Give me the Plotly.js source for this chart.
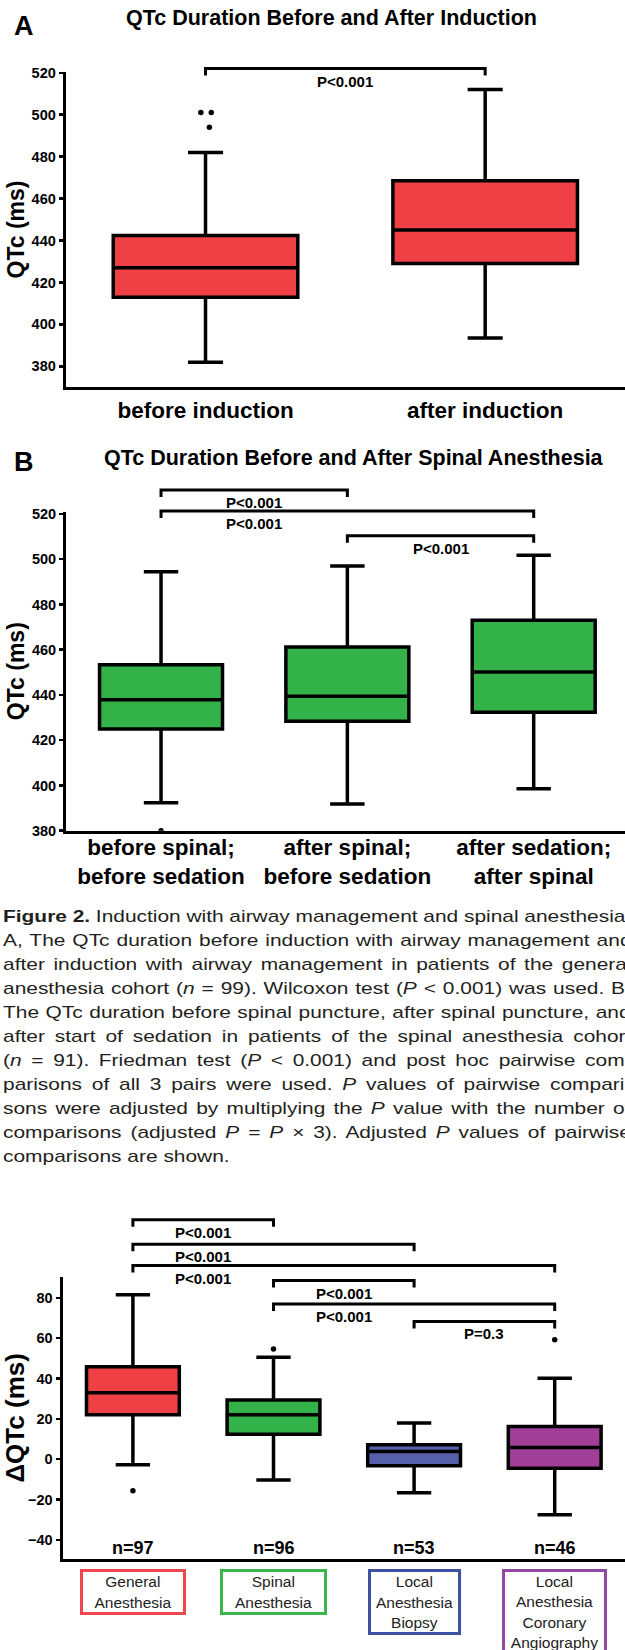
<!DOCTYPE html>
<html>
<head>
<meta charset="utf-8">
<script src="https://cdn.plot.ly/plotly-3.0.1.min.js"></script>
<style>
html,body{margin:0;padding:0;background:#fff;overflow:hidden;width:625px;height:1650px;}
#chart{position:absolute;left:0;top:0;width:625px;height:1650px;}
#caption{position:absolute;left:3px;top:905px;transform-origin:0 0;transform:scaleX(1.23);
  font-family:'Liberation Sans',Arial,sans-serif;font-size:17px;line-height:24px;color:#231f20;white-space:nowrap;}
#caption .ln{display:block;height:24px;}
#caption .ln span{display:inline-block;white-space:nowrap;}
</style>
</head>
<body>
<div id="chart"></div>
<div id="caption"></div>
<script>
// ---------------- data ----------------
// Panel A: QTc before / after induction
const catsA = ['before induction', 'after induction'];
const lowA  = [382, 393.5];
const q1A   = [413, 429];
const medA  = [427, 445];
const q3A   = [442.4, 468.5];
const highA = [482, 512];
const outA  = [[501, 501, 494], []];

// Panel B: QTc before / after spinal anesthesia
const catsB = ['before spinal;<br>before sedation', 'after spinal;<br>before sedation', 'after sedation;<br>after spinal'];
const lowB  = [392.3, 391.8, 398.5];
const q1B   = [424.9, 428.4, 432.4];
const medB  = [437.9, 439.4, 450.1];
const q3B   = [453.4, 461.2, 473.0];
const highB = [494.5, 497.0, 501.8];
const outB  = [[380], [], []];

// Panel C: delta QTc by anesthesia type
const catsC = ['General<br>Anesthesia', 'Spinal<br>Anesthesia', 'Local<br>Anesthesia<br>Biopsy', 'Local<br>Anesthesia<br>Coronary<br>Angiography'];
const nC    = [97, 96, 53, 46];
const lowC  = [-2.8, -10.3, -16.6, -27.6];
const q1C   = [22.0, 12.4, -3.3, -4.5];
const medC  = [33.0, 22.0, 3.8, 5.8];
const q3C   = [45.9, 29.4, 7.1, 16.2];
const highC = [81.5, 50.6, 17.9, 40.2];
const outC  = [[-15.6], [54.7], [], [59.2]];

// pairwise comparisons: [from, to, label]
const compA = [[0, 1, 'P<0.001']];
const compB = [[0, 1, 'P<0.001'], [0, 2, 'P<0.001'], [1, 2, 'P<0.001']];
const compC = [[0, 1, 'P<0.001'], [0, 2, 'P<0.001'], [0, 3, 'P<0.001'], [1, 2, 'P<0.001'], [1, 3, 'P<0.001'], [2, 3, 'P=0.3']];
// bracket heights (data units)
const levelA = [522];
const levelB = [530.6, 521.3, 510.4];
const levelC = [118.7, 106.6, 96.0, 88.6, 76.9, 68.3];

const ticksA = [380, 400, 420, 440, 460, 480, 500, 520];
const ticksB = [380, 400, 420, 440, 460, 480, 500, 520];
const ticksC = [-40, -20, 0, 20, 40, 60, 80];

const captionLines = [
 '<b>Figure 2.</b> Induction with airway management and spinal anesthesia.',
 'A, The QTc duration before induction with airway management and',
 'after induction with airway management in patients of the general',
 'anesthesia cohort (<i>n</i> = 99). Wilcoxon test (<i>P</i> &lt; 0.001) was used. B,',
 'The QTc duration before spinal puncture, after spinal puncture, and',
 'after start of sedation in patients of the spinal anesthesia cohort',
 '(<i>n</i> = 91). Friedman test (<i>P</i> &lt; 0.001) and post hoc pairwise com-',
 'parisons of all 3 pairs were used. <i>P</i> values of pairwise compari-',
 'sons were adjusted by multiplying the <i>P</i> value with the number of',
 'comparisons (adjusted <i>P</i> = <i>P</i> \u00d7 3). Adjusted <i>P</i> values of pairwise',
 'comparisons are shown.'
];

// ---------------- styling / layout ----------------
const FONT = 'Liberation Sans, Arial, Helvetica, sans-serif';
const W = 625, H = 1650;
const RED = '#EE4045', GREEN = '#34B24A', BLUE = '#5660AA', PURPLE = '#A03E98';
const BORDERS = ['#EF474C', '#3BB44A', '#3E52A4', '#9249A2'];
const FILLS_C = [RED, GREEN, BLUE, PURPLE];
const boxSizeC = [[100, 40], [101, 40], [87, 60], [99, 80]];

const P = {
  A: {n: '',  left: 65.7, top: 71.7,   bottom: 387.3, yr: [370, 520.5], xr: [-0.5, 1.5]},
  B: {n: '2', left: 66,   top: 511.7,  bottom: 830.7, yr: [380, 521],   xr: [-0.51, 2.49]},
  C: {n: '3', left: 62.6, top: 1276.7, bottom: 1559,  yr: [-49.5, 90.5], xr: [-0.5, 3.5]}
};
const xPx = (p, i) => p.left + (i - p.xr[0]) / (p.xr[1] - p.xr[0]) * (W - p.left);
const yPx = (p, v) => p.bottom - (v - p.yr[0]) / (p.yr[1] - p.yr[0]) * (p.bottom - p.top);
const px = x => x / W;
const py = y => 1 - y / H;

function boxTrace(cats, lo, q1, med, q3, hi, pts, color, n, ww, jit) {
  const t = {
    type: 'box', orientation: 'v', x: cats,
    q1: q1, median: med, q3: q3, lowerfence: lo, upperfence: hi,
    boxpoints: 'all', jitter: jit, pointpos: 0,
    fillcolor: color, line: {color: '#000', width: 3.5},
    marker: {color: '#000', size: 5.5},
    width: 0.66, whiskerwidth: ww,
    xaxis: 'x' + n, yaxis: 'y' + n, showlegend: false, hoverinfo: 'skip'
  };
  if (pts.some(a => a.length)) t.y = pts;
  else t.boxpoints = false;
  return t;
}

const traces = [
  boxTrace(catsA, lowA, q1A, medA, q3A, highA, outA, RED, '', 0.19, 0.08),
  boxTrace(catsB, lowB, q1B, medB, q3B, highB, outB, GREEN, '2', 0.28, 0)
];
catsC.forEach((c, i) => {
  traces.push(boxTrace([c], [lowC[i]], [q1C[i]], [medC[i]], [q3C[i]], [highC[i]], [outC[i]], FILLS_C[i], '3', 0.37, 0));
});

function xAxis(p, cats, showLabels, standoff) {
  return {
    domain: [px(p.left), 1], anchor: 'y' + p.n, type: 'category',
    categoryorder: 'array', categoryarray: cats, range: p.xr,
    showline: true, linewidth: 3, linecolor: '#000', ticks: '',
    showgrid: false, zeroline: false, showticklabels: showLabels,
    tickfont: {family: FONT, size: 22.5, color: '#000', weight: 'bold'},
    ticklabelstandoff: standoff, fixedrange: true
  };
}
function yAxis(p, tv, title, tsize, standoff) {
  return {
    domain: [py(p.bottom), py(p.top)], anchor: 'x' + p.n, range: p.yr,
    showline: true, linewidth: 3, linecolor: '#000',
    ticks: 'outside', ticklen: 4, tickwidth: 2.5, tickcolor: '#000',
    tickvals: tv, showgrid: false, zeroline: false,
    tickfont: {family: FONT, size: 14.5, color: '#000', weight: 'bold'},
    title: {text: title, font: {family: FONT, size: tsize, color: '#000', weight: 'bold'}, standoff: standoff},
    fixedrange: true
  };
}

const shapes = [];
const annotations = [];

function brackets(p, comps, levels) {
  comps.forEach((c, k) => {
    const x0 = xPx(p, c[0]), x1 = xPx(p, c[1]);
    const yl = yPx(p, levels[k]);
    const yt = yl + 7;
    shapes.push({
      type: 'path', xref: 'paper', yref: 'paper',
      path: 'M ' + px(x0) + ' ' + py(yt) + ' L ' + px(x0) + ' ' + py(yl) + ' L ' + px(x1) + ' ' + py(yl) + ' L ' + px(x1) + ' ' + py(yt),
      line: {color: '#000', width: 3}
    });
    annotations.push({
      xref: 'paper', yref: 'paper', x: px(xPx(p, c[0] + 0.5)), y: py(yl + 12.5),
      xanchor: 'center', yanchor: 'middle', showarrow: false, text: c[2],
      font: {family: FONT, size: 15, color: '#000', weight: 'bold'}
    });
  });
}
brackets(P.A, compA, levelA);
brackets(P.B, compB, levelB);
brackets(P.C, compC, levelC);

// panel letters and titles
[['A', 24, 26], ['B', 24, 462.5]].forEach(t => annotations.push({
  xref: 'paper', yref: 'paper', x: px(t[1]), y: py(t[2]), xanchor: 'center', yanchor: 'middle',
  showarrow: false, text: t[0], font: {family: FONT, size: 27, color: '#000', weight: 'bold'}
}));
[['QTc Duration Before and After Induction', 331, 18.3], ['QTc Duration Before and After Spinal Anesthesia', 354, 458]].forEach(t => annotations.push({
  xref: 'paper', yref: 'paper', x: px(t[1]), y: py(t[2]), xanchor: 'center', yanchor: 'middle',
  showarrow: false, text: t[0], font: {family: FONT, size: 21.5, color: '#000', weight: 'bold'}
}));

// n labels and group boxes for panel C
catsC.forEach((c, i) => {
  annotations.push({
    xref: 'x3', yref: 'paper', x: i, y: py(1547.7), xanchor: 'center', yanchor: 'middle',
    showarrow: false, text: 'n=' + nC[i], font: {family: FONT, size: 18, color: '#000', weight: 'bold'}
  });
  annotations.push({
    xref: 'x3', yref: 'paper', x: i, y: py(1569.3), xanchor: 'center', yanchor: 'top',
    showarrow: false, text: c, font: {family: FONT, size: 15.5, color: '#222'},
    bordercolor: BORDERS[i], borderwidth: 3, borderpad: 0, bgcolor: '#fff',
    width: boxSizeC[i][0], height: boxSizeC[i][1], valign: 'middle', align: 'center'
  });
});

const layout = {
  width: W, height: H, margin: {l: 0, r: 0, t: 0, b: 0},
  paper_bgcolor: '#fff', plot_bgcolor: 'rgba(0,0,0,0)',
  showlegend: false, boxmode: 'overlay',
  font: {family: FONT, color: '#000'},
  xaxis: xAxis(P.A, catsA, true, 1),
  yaxis: yAxis(P.A, ticksA, 'QTc (ms)', 23, 1),
  xaxis2: xAxis(P.B, catsB, true, -6),
  yaxis2: yAxis(P.B, ticksB, 'QTc (ms)', 23, 1),
  xaxis3: xAxis(P.C, catsC, false, 0),
  yaxis3: yAxis(P.C, ticksC, '\u0394QTc (ms)', 26, 0),
  shapes: shapes, annotations: annotations
};

Plotly.newPlot('chart', traces, layout, {staticPlot: true, displayModeBar: false});

// ---------------- caption (justified lines) ----------------
const cap = document.getElementById('caption');
const SX = 1.23, TARGET = 628 / SX;
captionLines.forEach((html, k) => {
  const d = document.createElement('div');
  d.className = 'ln';
  const s = document.createElement('span');
  s.innerHTML = html;
  d.appendChild(s);
  cap.appendChild(d);
  if (k < captionLines.length - 1) {
    const w = s.offsetWidth;
    const n = (s.textContent.match(/ /g) || []).length;
    if (n) s.style.wordSpacing = ((TARGET - w) / n) + 'px';
  }
});
</script>
</body>
</html>
